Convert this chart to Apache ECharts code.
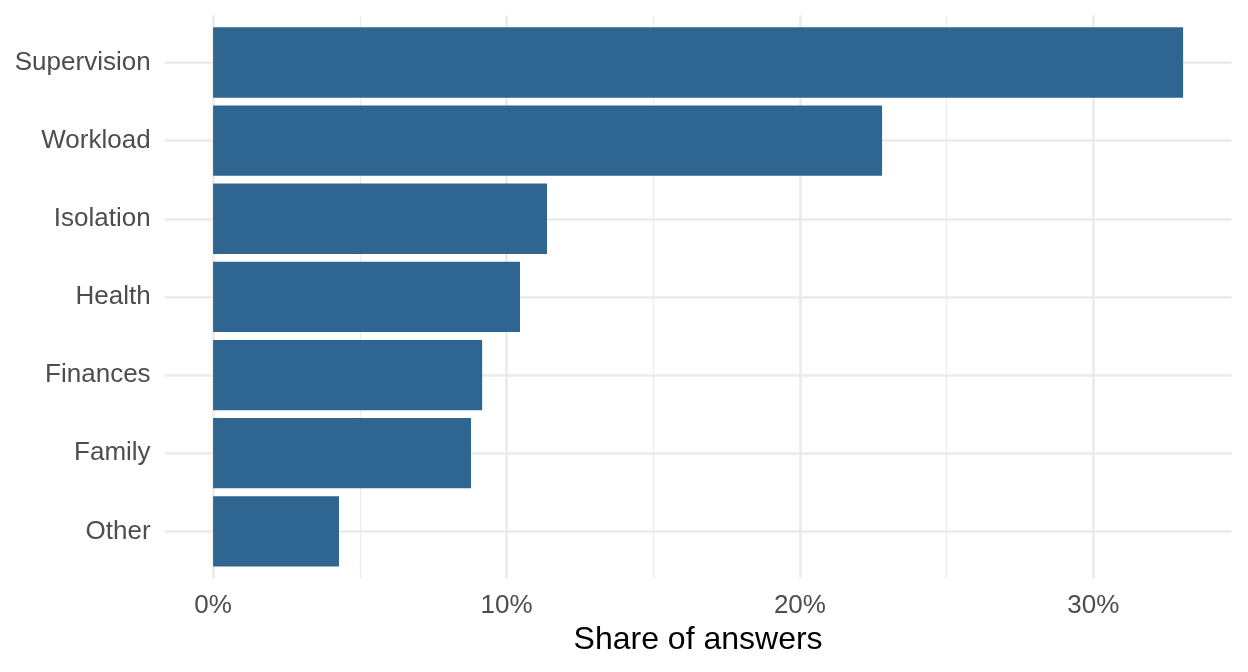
<!DOCTYPE html>
<html>
<head>
<meta charset="utf-8">
<script src="https://cdn.jsdelivr.net/npm/echarts@6/dist/echarts.min.js"></script>
<style>html,body{margin:0;padding:0;background:#fff}#c{width:1248px;height:672px}</style>
</head>
<body>
<div id="c"></div>
<script>
const categories = ['Supervision', 'Workload', 'Isolation', 'Health', 'Finances', 'Family', 'Other'];
const shares = [33.06, 22.80, 11.38, 10.46, 9.17, 8.79, 4.29];
const majorTicks = [0, 10, 20, 30];
const minorTicks = [5, 15, 25];
const xTitle = 'Share of answers';

const dataMax = Math.max(...shares);
const xMin = -0.05 * dataMax;
const xMax = dataMax * 1.05;
const catIdx = categories.map((c, i) => i);

const FONT = '"Liberation Sans", Arial, sans-serif';
const GRID_COLOR = '#ebebeb';
const L = 164.6, R = 1248 - 1231.6;

const chart = echarts.init(document.getElementById('c'), null, {renderer: 'canvas'});
chart.setOption({
  animation: false,
  backgroundColor: '#ffffff',
  grid: [
    {left: L, right: R, top: 23.4, bottom: 672 - 570.4, containLabel: false},
    {left: L, right: R, top: 15.6, bottom: 672 - 578.2, containLabel: false}
  ],
  xAxis: [
    {gridIndex: 0, type: 'value', min: xMin, max: xMax, show: false, splitLine: {show: false}},
    {gridIndex: 1, type: 'value', min: xMin, max: xMax,
      axisLine: {show: false},
      axisTick: {show: false, customValues: majorTicks},
      axisLabel: {customValues: majorTicks, formatter: v => v + '%', color: '#4d4d4d', fontSize: 26, fontFamily: FONT, margin: 15},
      splitLine: {show: true, lineStyle: {color: GRID_COLOR, width: 2.6}},
      name: xTitle, nameLocation: 'middle', nameGap: 43,
      nameTextStyle: {color: '#000000', fontSize: 32, fontFamily: FONT}
    },
    {gridIndex: 1, type: 'value', min: xMin, max: xMax,
      axisLine: {show: false},
      axisTick: {show: false, customValues: minorTicks},
      axisLabel: {show: false, customValues: minorTicks},
      splitLine: {show: true, lineStyle: {color: GRID_COLOR, width: 1.3}}
    }
  ],
  yAxis: [
    {gridIndex: 0, type: 'category', data: categories, inverse: true,
      axisLine: {show: false}, axisTick: {show: false}, splitLine: {show: false},
      axisLabel: {color: '#4d4d4d', fontSize: 26, fontFamily: FONT, margin: 14, padding: [5, 0, 0, 0]}
    },
    {gridIndex: 1, type: 'value', min: -0.6, max: catIdx.length - 0.4, inverse: true,
      axisLine: {show: false},
      axisTick: {show: false, customValues: catIdx},
      axisLabel: {show: false, customValues: catIdx},
      splitLine: {show: true, lineStyle: {color: GRID_COLOR, width: 2.6}}
    }
  ],
  series: [{
    type: 'bar',
    xAxisIndex: 0, yAxisIndex: 0,
    data: shares,
    barWidth: '90%',
    itemStyle: {color: '#2f6691'},
    z: 5
  }]
});
</script>
</body>
</html>
